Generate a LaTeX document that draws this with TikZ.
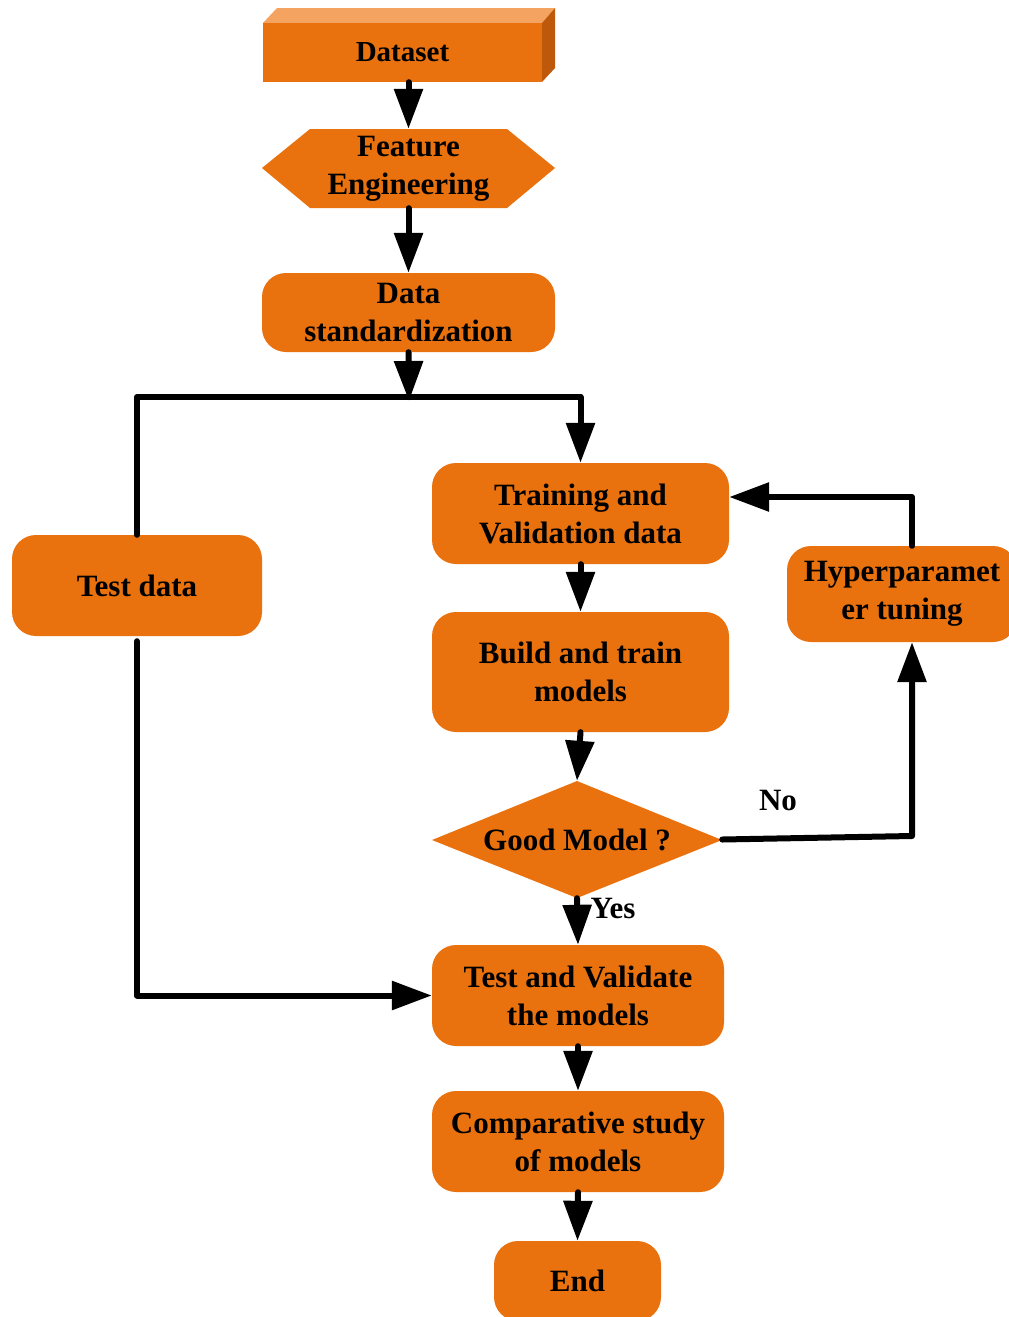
\documentclass[tikz,border=0pt]{standalone}
\usepackage{fontspec}
\setmainfont{Liberation Serif}
\usetikzlibrary{arrows.meta}
\definecolor{org}{RGB}{233,113,14}
\definecolor{orgtop}{RGB}{244,163,96}
\definecolor{orgside}{RGB}{190,88,10}
\begin{document}
\begin{tikzpicture}[x=1pt,y=-1pt,
  txt/.style={font=\bfseries\fontsize{31}{38}\selectfont, inner sep=0pt, align=center},
  box/.style={txt, fill=org, rounded corners=24pt},
  conn/.style={line width=6pt, line cap=round, line join=round},
  arr/.style={conn, -{Triangle[length=40pt,width=28pt]}}]
\path[use as bounding box] (0,0) rectangle (1009,1317);
\clip (0,0) rectangle (1009,1317);
% Dataset (3D block)
\fill[orgtop] (263,23) -- (277,8) -- (555,8) -- (542,23) -- cycle;
\fill[orgside] (542,23) -- (555,8) -- (555,68) -- (542,82) -- cycle;
\node[box, rounded corners=0pt, minimum width=279pt, minimum height=59pt, font=\bfseries\fontsize{29}{36}\selectfont] (ds) at (402.5,52.5) {Dataset};
% Feature engineering hexagon
\fill[org] (262,168) -- (310,129) -- (507,129) -- (555,168) -- (507,208) -- (310,208) -- cycle;
\node[txt, minimum width=293pt, minimum height=79pt] (fe) at (408.5,168.5) {Feature\\Engineering};
% boxes
\node[box, minimum width=293pt, minimum height=79pt] (dstd) at (408.5,312.5) {Data\\standardization};
\node[box, minimum width=297pt, minimum height=101pt] (tv) at (580.5,513.5) {Training and\\Validation data};
\node[box, minimum width=250pt, minimum height=101pt] (test) at (137,585.5) {Test data};
\node[box, minimum width=297pt, minimum height=120pt] (build) at (580.5,672) {Build and train\\models};
% diamond
\fill[org] (432,840) -- (577,781) -- (722,840) -- (577,898) -- cycle;
\node[txt, minimum width=290pt, minimum height=117pt] (good) at (577,839.5) {Good Model ?};
\node[box, minimum width=292pt, minimum height=101pt] (tval) at (578,995.5) {Test and Validate\\the models};
\node[box, minimum width=292pt, minimum height=101pt] (comp) at (578,1141.5) {Comparative study\\of models};
\node[box, minimum width=167pt, minimum height=80pt] (end) at (577.5,1281) {End};
\node[box, minimum width=230pt, minimum height=96pt] (hyp) at (902,594) {Hyperparamet\\er tuning};
% connectors
\coordinate (split) at (409,397);
\coordinate (splitend) at (409,401);
\coordinate (c1) at (912,836);
\draw[arr] (ds.south -| fe.north) -- (fe.north);
\draw[arr] (fe.south) -- (dstd.north);
\draw[arr] (dstd.south) -- (splitend);
\draw[arr] (test.north) |- (split) -| (tv.north);
\draw[arr] (tv.south) -- (build.north);
\draw[arr] (build.south) -- (good.north);
\draw[arr] (good.south) -- (tval.north);
\draw[arr] (good.east) -- (c1) -- (c1 |- hyp.south);
\draw[arr] (c1 |- hyp.north) |- ([yshift=16.5pt]tv.east);
\draw[arr] ([yshift=-5pt]test.south) |- (tval.west);
\draw[arr] (tval.south) -- (comp.north);
\draw[arr] (comp.south) -- (end.north);
% labels
\node[txt] (yes) at (613,908) {Yes};
\node[txt] (no) at (778,800) {No};
\end{tikzpicture}
\end{document}
